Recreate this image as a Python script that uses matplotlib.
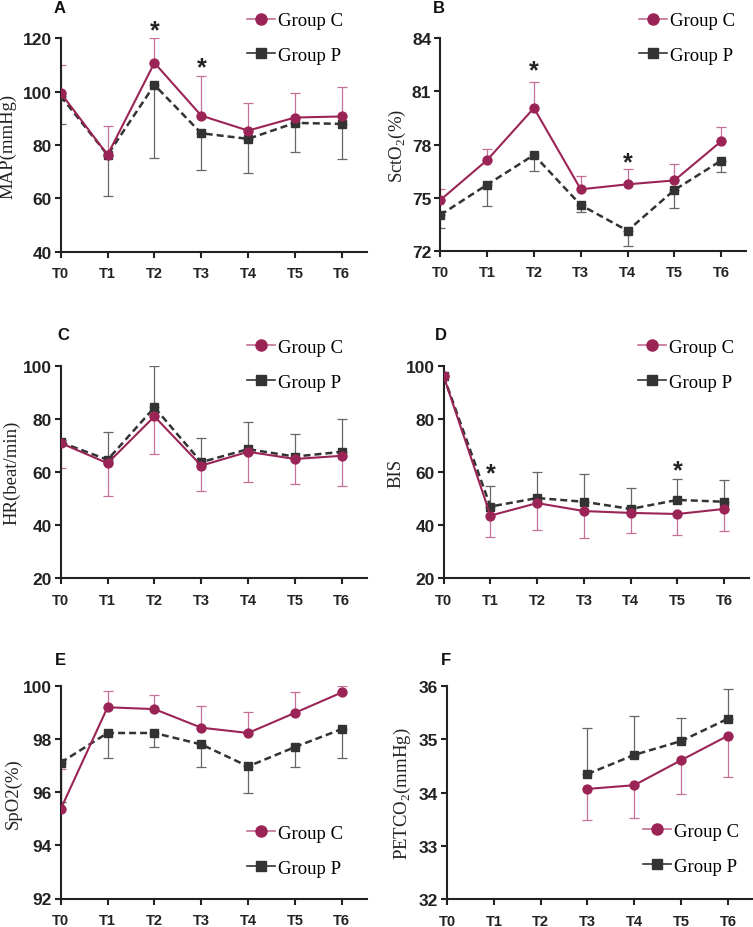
import numpy as np
import matplotlib
matplotlib.use("Agg")
import matplotlib.pyplot as plt
from matplotlib.lines import Line2D

plt.rcParams['mathtext.fontset'] = 'custom'
plt.rcParams['mathtext.rm'] = 'Liberation Serif'

times = ['T0', 'T1', 'T2', 'T3', 'T4', 'T5', 'T6']

# ------data (mean, one-sided SD) ------
map_c = [99.5, 76.3, 110.8, 91.0, 85.4, 90.3, 90.7]
map_c_sd = [10.5, 11.0, 9.2, 14.8, 10.3, 9.2, 10.9]
map_p = [98.3, 76.3, 102.5, 84.4, 82.3, 88.3, 87.9]
map_p_sd = [10.4, 15.5, 27.5, 13.8, 12.9, 11.0, 13.2]

scto2_c = [74.86, 77.12, 80.06, 75.47, 75.75, 75.97, 78.18]
scto2_c_sd = [0.62, 0.63, 1.45, 0.77, 0.85, 0.95, 0.81]
scto2_p = [74.02, 75.73, 77.41, 74.58, 73.13, 75.43, 77.09]
scto2_p_sd = [0.76, 1.23, 0.91, 0.41, 0.85, 1.04, 0.66]

hr_c = [70.9, 63.3, 80.9, 62.4, 67.6, 64.9, 66.1]
hr_c_sd = [9.5, 12.5, 14.0, 9.6, 11.5, 9.4, 11.5]
hr_p = [71.2, 64.6, 84.3, 63.7, 68.6, 65.8, 67.6]
hr_p_sd = [1.0, 10.6, 15.7, 9.0, 10.3, 8.6, 12.3]

bis_c = [96.0, 43.6, 48.3, 45.3, 44.6, 44.2, 46.1]
bis_c_sd = [0.0, 7.9, 10.1, 10.3, 7.7, 7.9, 8.4]
bis_p = [96.0, 47.0, 50.2, 48.8, 46.1, 49.5, 48.8]
bis_p_sd = [0.0, 7.9, 9.9, 10.5, 7.8, 7.9, 8.3]

spo2_c = [95.37, 99.21, 99.14, 98.44, 98.24, 99.0, 99.77]
spo2_c_sd = [1.51, 0.63, 0.53, 0.83, 0.78, 0.77, 0.23]
spo2_p = [97.12, 98.24, 98.24, 97.81, 96.98, 97.71, 98.39]
spo2_p_sd = [1.49, 0.96, 0.52, 0.85, 0.99, 0.75, 1.08]

petco2_c = [np.nan, np.nan, np.nan, 34.07, 34.14, 34.61, 35.07]
petco2_c_sd = [0, 0, 0, 0.58, 0.62, 0.64, 0.78]
petco2_p = [np.nan, np.nan, np.nan, 34.35, 34.71, 34.97, 35.39]
petco2_p_sd = [0, 0, 0, 0.86, 0.74, 0.43, 0.56]

C_COL = '#9b2456'
C_ERR = '#c66f98'
P_COL = '#333333'
P_ERR = '#666666'

fig = plt.figure(figsize=(7.53, 9.28), dpi=100)
W, H = 753.0, 928.0


def px_axes(left, top, right, bottom):
  return fig.add_axes([left / W, 1 - bottom / H, (right - left) / W, (bottom - top) / H])


# panel: letter, axes box (px), data, c bars up?, ylim, ticks, ylabel, label x, legend anchor, stars, letter pos
panels = [
  dict(letter='A', box=(60.7, 39.3, 366.7, 252.7), c=map_c, csd=map_c_sd, p=map_p, psd=map_p_sd,
       c_up=True, yl=(40, 120), yt=[40, 60, 80, 100, 120], lab='MAP(mmHg)', labx=-0.144,
       leg=(246.7, 39), stars=[(2, 122.9), (3, 109.1)], lpos=(53.3, 13.3)),
  dict(letter='B', box=(440.3, 39.3, 746.0, 251.7), c=scto2_c, csd=scto2_c_sd, p=scto2_p, psd=scto2_p_sd,
       c_up=True, yl=(72, 84), yt=[72, 75, 78, 81, 84], lab='SctO$_{\\mathrm{2}}$(%)', labx=-0.107,
       leg=(639.3, 39), stars=[(2, 82.17), (4, 77.0)], lpos=(433.3, 13.3)),
  dict(letter='C', box=(60.7, 366.7, 366.7, 579.3), c=hr_c, csd=hr_c_sd, p=hr_p, psd=hr_p_sd,
       c_up=False, yl=(20, 100), yt=[20, 40, 60, 80, 100], lab='HR(beat/min)', labx=-0.133,
       leg=(246.7, 365.5), stars=[], lpos=(57.3, 340)),
  dict(letter='D', box=(443.7, 366.7, 749.0, 579.3), c=bis_c, csd=bis_c_sd, p=bis_p, psd=bis_p_sd,
       c_up=False, yl=(20, 100), yt=[20, 40, 60, 80, 100], lab='BIS', labx=-0.128,
       leg=(637.7, 365.5), stars=[(1, 59.6), (5, 60.8)], lpos=(435.3, 340)),
  dict(letter='E', box=(60.7, 687.3, 366.7, 899.5), c=spo2_c, csd=spo2_c_sd, p=spo2_p, psd=spo2_p_sd,
       c_up=True, yl=(92, 100), yt=[92, 94, 96, 98, 100], lab='SpO2(%)', labx=-0.127,
       leg=(246.7, 851.5), stars=[], lpos=(55, 665)),
  dict(letter='F', box=(447.0, 687.3, 752.7, 900.0), c=petco2_c, csd=petco2_c_sd, p=petco2_p, psd=petco2_p_sd,
       c_up=False, yl=(32, 36), yt=[32, 33, 34, 35, 36], lab='PETCO$_{\\mathrm{2}}$(mmHg)', labx=-0.112,
       leg=(642.7, 849.8), stars=[], lpos=(441, 665)),
]

x = np.arange(len(times))

# legend keys: solid line through marker, as in the figure
leg_handles = [
  Line2D([], [], color=C_ERR, lw=1.2, marker='o', ms=8, mfc=C_COL, mec=C_COL),
  Line2D([], [], color=P_COL, lw=1.2, marker='s', ms=7.2, mfc=P_COL, mec=P_COL),
]
leg_labels = ['Group C', 'Group P']

for pn in panels:
  ax = px_axes(*pn['box'])
  c = np.array(pn['c']); csd = np.array(pn['csd'])
  p = np.array(pn['p']); psd = np.array(pn['psd'])
  zero = np.zeros(len(x))
  c_err = [zero, csd] if pn['c_up'] else [csd, zero]
  p_err = [psd, zero] if pn['c_up'] else [zero, psd]

  ax.errorbar(x, p, yerr=p_err, fmt='none', ecolor=P_ERR, elinewidth=0.9, capsize=3.5, capthick=0.9, zorder=1)
  ax.errorbar(x, c, yerr=c_err, fmt='none', ecolor=C_ERR, elinewidth=0.9, capsize=3.5, capthick=0.9, zorder=1)
  ax.plot(x, p, color=P_COL, lw=1.8, ls=(0, (2.8, 1.6)), marker='s', ms=5.8, zorder=3)
  ax.plot(x, c, color=C_COL, lw=1.5, marker='o', ms=6.4, zorder=4)

  for xi, yv in pn['stars']:
    ax.text(xi, yv, '*', ha='center', va='center', fontsize=18, fontweight='bold',
            family='Liberation Sans', color='#222222')

  ax.set_xlim(0, 6.53)
  ax.set_ylim(*pn['yl'])
  ax.set_yticks(pn['yt'])
  ax.set_xticks(x)
  ax.set_xticklabels(times)
  for s in ['top', 'right']:
    ax.spines[s].set_visible(False)
  for s in ['left', 'bottom']:
    ax.spines[s].set_linewidth(1.5)
    ax.spines[s].set_color('#222222')
  ax.tick_params(axis='both', direction='out', length=4.5, width=1.5, color='#222222')
  ax.tick_params(axis='y', pad=2)
  ax.tick_params(axis='x', pad=6)
  for t in ax.get_yticklabels():
    t.set_fontfamily('Liberation Sans'); t.set_fontweight('bold'); t.set_fontsize(12.5); t.set_color('#222222')
  for t in ax.get_xticklabels():
    t.set_fontfamily('Liberation Sans'); t.set_fontweight('bold'); t.set_fontsize(10.5); t.set_color('#222222')
  ax.set_ylabel(pn['lab'], family='Liberation Serif', fontsize=13.5, color='#222222')
  ax.yaxis.set_label_coords(pn['labx'], 0.5)

  lx, ly = pn['leg']
  ax.legend(leg_handles, leg_labels, loc='center left', bbox_to_anchor=(lx / W, 1 - ly / H),
            bbox_transform=fig.transFigure, frameon=False, borderpad=0, borderaxespad=0,
            handlelength=1.5, handletextpad=0.15, labelspacing=0.95,
            prop={'family': 'Liberation Serif', 'size': 13.5})

  fig.text(pn['lpos'][0] / W, 1 - pn['lpos'][1] / H, pn['letter'], ha='left', va='baseline',
           fontsize=12, fontweight='bold', family='Liberation Sans', color='#111111')

fig.savefig('out.png', dpi=100)
